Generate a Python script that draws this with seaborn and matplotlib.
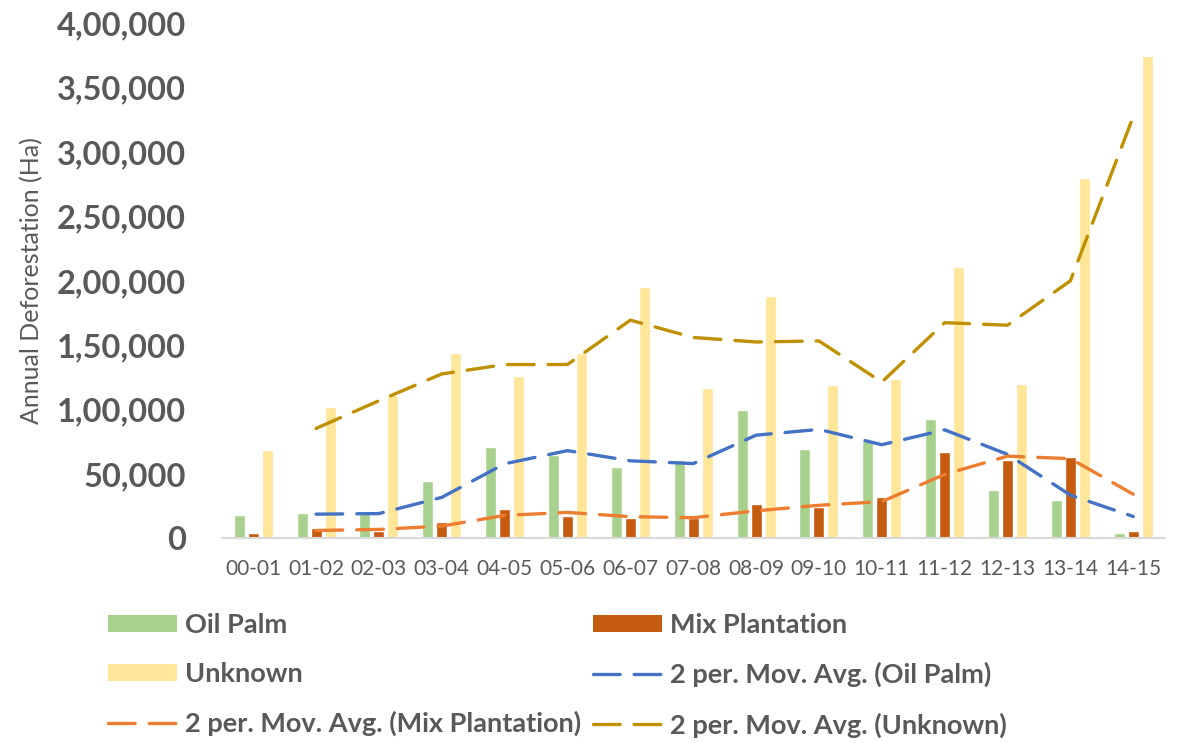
import numpy as np
import pandas as pd
import matplotlib
matplotlib.use("Agg")
import matplotlib.pyplot as plt
from matplotlib.patches import Patch
from matplotlib.lines import Line2D
import seaborn as sns

# Annual deforestation by driver (hectares)
periods = ["00-01", "01-02", "02-03", "03-04", "04-05", "05-06", "06-07", "07-08",
           "08-09", "09-10", "10-11", "11-12", "12-13", "13-14", "14-15"]
oil_palm = [18100, 19400, 19000, 44600, 71200, 65000, 55400, 60700,
            99500, 69700, 75700, 92800, 37600, 29500, 4400]
mix_plantation = [4400, 7800, 6000, 13000, 22600, 17600, 16000, 16000,
                  26700, 24600, 32400, 66900, 60700, 63000, 5500]
unknown = [68400, 102300, 111400, 143900, 126000, 144000, 194900, 117100,
           187900, 118700, 124000, 211000, 120000, 280000, 375000]

series_names = ["Oil Palm", "Mix Plantation", "Unknown"]
bar_colors = ["#A9D18E", "#C55A11", "#FFE699"]
trend_colors = ["#4472C4", "#ED7D31", "#BF9000"]
text_gray = "#595959"

sns.set_theme(style="white")
plt.rcParams["font.family"] = ["Lato", "DejaVu Sans"]

df = pd.DataFrame({"period": periods, "Oil Palm": oil_palm,
                   "Mix Plantation": mix_plantation, "Unknown": unknown})
long_df = df.melt(id_vars="period", var_name="series", value_name="value")

fig = plt.figure(figsize=(11.86, 7.43), dpi=100)
ax = fig.add_axes([0.187, 0.2755, 0.795, 0.6931])

sns.barplot(data=long_df, x="period", y="value", hue="series",
            hue_order=series_names, palette=bar_colors, order=periods,
            width=0.668, gap=0.214, saturation=1, errorbar=None,
            legend=False, ax=ax)

# Two-period moving average trendlines
xpos = np.arange(len(periods))
dash = (0, (8, 4.2))
trend_handles = []
for name, col in zip(series_names, trend_colors):
    ma = df[name].rolling(2).mean()
    sns.lineplot(x=xpos, y=ma.values, color=col, lw=2.4, ax=ax,
                 linestyle=dash, dash_capstyle="round",
                 solid_capstyle="round", legend=False)
    trend_handles.append(Line2D([0], [0], color=col, lw=2.4,
                                linestyle=dash, dash_capstyle="round"))

ax.set_xlim(-0.5, len(periods) - 0.5)
ax.set_ylim(0, 400000)
ax.set_yticks(np.arange(0, 400001, 50000))


def indian_format(v):
    s = str(int(round(v)))
    if len(s) <= 3:
        return s
    head, tail = s[:-3], s[-3:]
    groups = []
    while len(head) > 2:
        groups.insert(0, head[-2:])
        head = head[:-2]
    if head:
        groups.insert(0, head)
    return ",".join(groups + [tail])


ax.set_yticklabels([indian_format(v) for v in ax.get_yticks()],
                   fontsize=23.5, fontweight="bold", color=text_gray)
ax.tick_params(axis="y", length=0, pad=26)
ax.tick_params(axis="x", length=0, pad=15, labelsize=15, labelcolor=text_gray)
ax.set_xlabel("")
ax.set_ylabel("Annual Deforestation (Ha)", fontsize=18, color=text_gray)
ax.yaxis.set_label_coords((43 - 221.7) / 943, 0.5)

for side in ["left", "right", "top"]:
    ax.spines[side].set_visible(False)
ax.spines["bottom"].set_color("#D9D9D9")
ax.spines["bottom"].set_linewidth(1.5)

bar_handles = [Patch(facecolor=c, edgecolor="none") for c in bar_colors]
trend_labels = [f"2 per. Mov. Avg. ({n})" for n in series_names]
handles = [bar_handles[0], bar_handles[2], trend_handles[1],
           bar_handles[1], trend_handles[0], trend_handles[2]]
labels = [series_names[0], series_names[2], trend_labels[1],
          series_names[1], trend_labels[0], trend_labels[2]]
leg = fig.legend(handles, labels, ncol=2, loc="upper left",
                 bbox_to_anchor=(108 / 1186, 1 - 613 / 743),
                 frameon=False, borderpad=0, borderaxespad=0,
                 handlelength=2.54, handleheight=0.6, handletextpad=0.3,
                 columnspacing=0.45, labelspacing=0.92,
                 prop={"family": ["Lato", "DejaVu Sans"], "weight": "bold",
                       "size": 19.5})
for t in leg.get_texts():
    t.set_color(text_gray)

fig.savefig("out.png", dpi=100)
